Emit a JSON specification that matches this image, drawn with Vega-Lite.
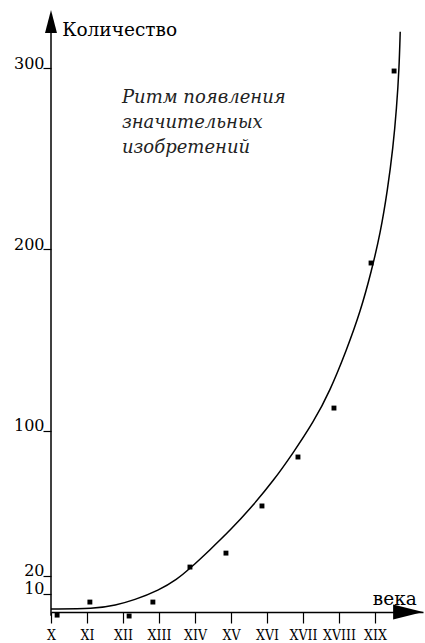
{
  "$schema": "https://vega.github.io/schema/vega-lite/v6.json",
  "autosize": "none",
  "width": 372,
  "height": 612,
  "padding": {"left": 51, "top": 10, "right": 2, "bottom": 21},
  "background": "white",
  "config": {"view": {"stroke": null}},
  "datasets": {
    "points": [
      {"c": 10.17, "n": -1.7},
      {"c": 11.08, "n": 5.5},
      {"c": 12.17, "n": -2.2},
      {"c": 12.83, "n": 5.5},
      {"c": 13.86, "n": 24.8},
      {"c": 14.86, "n": 32.5},
      {"c": 15.86, "n": 58.5},
      {"c": 16.86, "n": 85.5},
      {"c": 17.86, "n": 112.5},
      {"c": 18.89, "n": 192.5},
      {"c": 19.53, "n": 298.4}
    ],
    "curve": [
      {"c": 10.0, "n": 1.7},
      {"c": 11.2, "n": 1.7},
      {"c": 11.8, "n": 3.8},
      {"c": 12.3, "n": 6.5},
      {"c": 13.0, "n": 12},
      {"c": 13.5, "n": 18},
      {"c": 13.86, "n": 24},
      {"c": 14.4, "n": 34},
      {"c": 15.0, "n": 45.5},
      {"c": 15.6, "n": 58.5},
      {"c": 16.2, "n": 73},
      {"c": 16.7, "n": 87},
      {"c": 17.3, "n": 105},
      {"c": 17.75, "n": 122},
      {"c": 18.2, "n": 144},
      {"c": 18.6, "n": 166},
      {"c": 18.9, "n": 188},
      {"c": 19.15, "n": 209},
      {"c": 19.35, "n": 233},
      {"c": 19.5, "n": 256},
      {"c": 19.6, "n": 278},
      {"c": 19.67, "n": 300},
      {"c": 19.7, "n": 320}
    ],
    "note": [
      {"c": 11.97, "n": 280.8, "t": "Ритм появления"},
      {"c": 11.97, "n": 267.0, "t": "значительных"},
      {"c": 11.97, "n": 253.2, "t": "изобретений"}
    ],
    "labels": [
      {"c": 10.31, "n": 317.7, "t": "Количество"},
      {"c": 18.94, "n": 3.9, "t": "века"}
    ],
    "yaxis": [{"c": 10, "n": -2, "n2": 325}],
    "yarrow": [{"c": 10, "n": 325.7}],
    "xarrow": [{"c": 19.92, "n": 0}]
  },
  "layer": [
    {
      "data": {"name": "curve"},
      "mark": {"type": "line", "interpolate": "basis", "color": "black", "strokeWidth": 1.5},
      "encoding": {
        "x": {
          "field": "c", "type": "quantitative",
          "scale": {"domain": [10, 20.333], "nice": false, "zero": false},
          "axis": {
            "title": null,
            "values": [10, 11, 12, 13, 14, 15, 16, 17, 18, 19],
            "labelExpr": "['X','XI','XII','XIII','XIV','XV','XVI','XVII','XVIII','XIX'][datum.value - 10]",
            "offset": -10,
            "grid": false,
            "domain": true,
            "domainColor": "black",
            "domainWidth": 1.5,
            "tickColor": "black",
            "tickWidth": 1.2,
            "tickSize": 11,
            "labelFont": "DejaVu Serif Condensed, DejaVu Serif",
            "labelFontSize": 14,
            "labelColor": "black",
            "labelPadding": 5,
            "labelFlush": false,
            "labelOverlap": false
          }
        },
        "y": {
          "field": "n", "type": "quantitative",
          "scale": {"domain": [-5.5, 332.05], "nice": false, "zero": false},
          "axis": {
            "title": null,
            "values": [10, 20, 100, 200, 300],
            "grid": false,
            "domain": false,
            "tickColor": "black",
            "tickWidth": 1.2,
            "tickSize": 8,
            "labelFont": "DejaVu Serif",
            "labelFontSize": 16,
            "labelColor": "black",
            "labelPadding": -1,
            "labelBaseline": "alphabetic",
            "labelFlush": false,
            "labelOverlap": false
          }
        }
      }
    },
    {
      "data": {"name": "yaxis"},
      "mark": {"type": "rule", "color": "black", "strokeWidth": 1.5},
      "encoding": {
        "x": {"field": "c", "type": "quantitative"},
        "y": {"field": "n", "type": "quantitative"},
        "y2": {"field": "n2"}
      }
    },
    {
      "data": {"name": "points"},
      "mark": {"type": "point", "shape": "square", "filled": true, "color": "black", "size": 24, "opacity": 1},
      "encoding": {
        "x": {"field": "c", "type": "quantitative"},
        "y": {"field": "n", "type": "quantitative"}
      }
    },
    {
      "data": {"name": "yarrow"},
      "mark": {"type": "point", "shape": "M0,-1L0.52,1L-0.52,1Z", "filled": true, "color": "black", "size": 529, "opacity": 1},
      "encoding": {
        "x": {"field": "c", "type": "quantitative"},
        "y": {"field": "n", "type": "quantitative"}
      }
    },
    {
      "data": {"name": "xarrow"},
      "mark": {"type": "point", "shape": "M1,0L-1,-0.5L-1,0.5Z", "filled": true, "color": "black", "size": 900, "opacity": 1},
      "encoding": {
        "x": {"field": "c", "type": "quantitative"},
        "y": {"field": "n", "type": "quantitative"}
      }
    },
    {
      "data": {"name": "note"},
      "mark": {"type": "text", "align": "left", "baseline": "alphabetic", "font": "DejaVu Serif", "fontStyle": "italic", "fontSize": 18, "color": "#222"},
      "encoding": {
        "x": {"field": "c", "type": "quantitative"},
        "y": {"field": "n", "type": "quantitative"},
        "text": {"field": "t"}
      }
    },
    {
      "data": {"name": "labels"},
      "mark": {"type": "text", "align": "left", "baseline": "alphabetic", "font": "DejaVu Serif", "fontSize": 18.5, "color": "black"},
      "encoding": {
        "x": {"field": "c", "type": "quantitative"},
        "y": {"field": "n", "type": "quantitative"},
        "text": {"field": "t"}
      }
    }
  ]
}
